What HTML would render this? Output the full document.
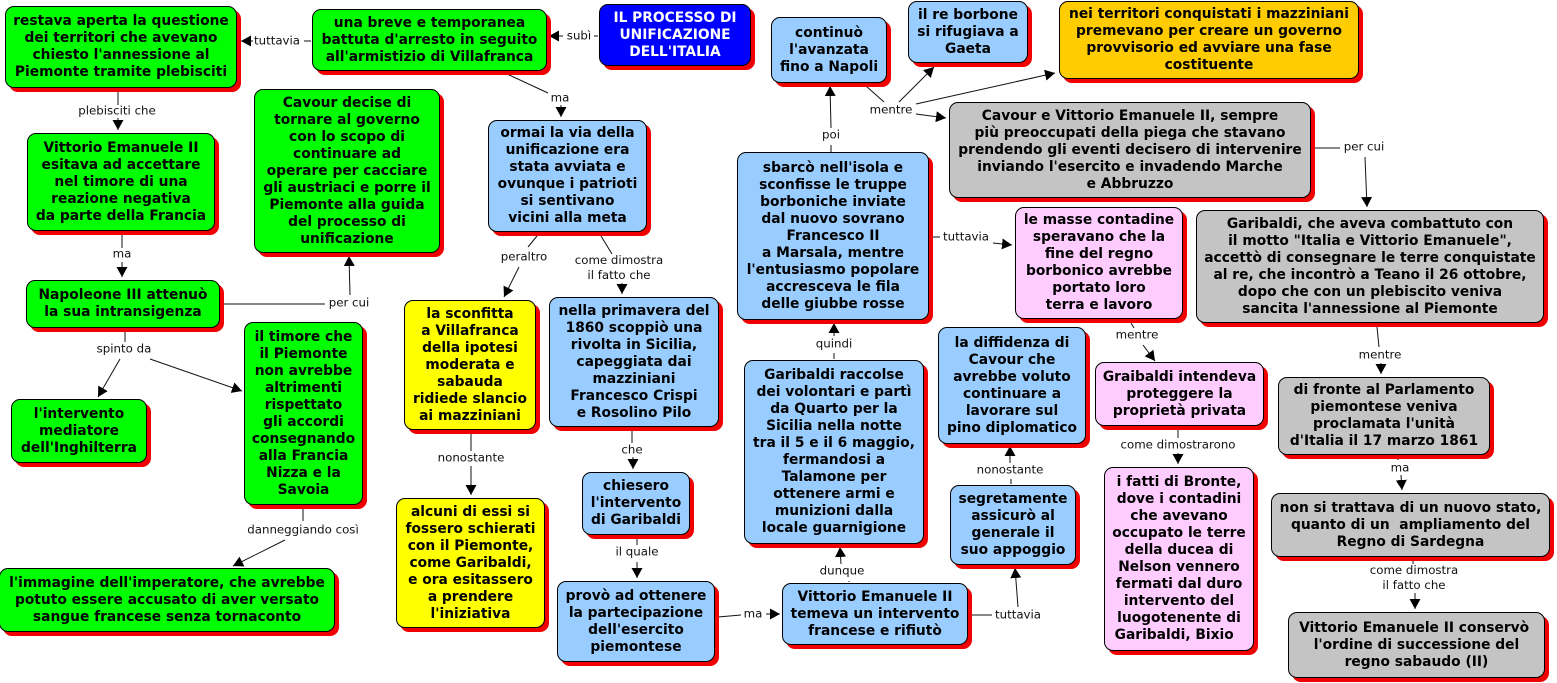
<!DOCTYPE html>
<html><head><meta charset="utf-8"><style>
html,body{margin:0;padding:0;background:#fff;width:1557px;height:683px;overflow:hidden}
.n{position:absolute;box-sizing:border-box;border:1px solid #000;border-radius:9px;box-shadow:4px 4px 0 #f00000;display:flex;align-items:center;justify-content:center;text-align:center;font:bold 13.8px/17px "DejaVu Sans","Liberation Sans",sans-serif;color:#000;white-space:pre}
.g{background:#00ff00}.b{background:#99ccff}.y{background:#ffff00}.p{background:#ffccff}.s{background:#c4c4c4}.o{background:#ffcc00}
.l{position:absolute;transform:translate(-50%,-50%);font:11.8px/15px "DejaVu Sans","Liberation Sans",sans-serif;color:#111;text-align:center;white-space:nowrap}
svg{position:absolute;left:0;top:0}
</style></head><body>
<svg width="1557" height="683" viewBox="0 0 1557 683"><defs><marker id="a" markerUnits="userSpaceOnUse" markerWidth="11" markerHeight="11" refX="10" refY="5.5" orient="auto"><path d="M0 0L10 5.5L0 11Z" fill="#000"/></marker></defs>
<g stroke="#111" stroke-width="1" fill="none">
<path d="M598 36H594"/><path d="M563 36H549" marker-end="url(#a)"/>
<path d="M311 41H304"/><path d="M253 41H241" marker-end="url(#a)"/>
<path d="M118 90V105"/><path d="M118 118V130" marker-end="url(#a)"/>
<path d="M122 233V248"/><path d="M122 262V277" marker-end="url(#a)"/>
<path d="M223 304H325"/><path d="M350 295L349 256" marker-end="url(#a)"/>
<path d="M125 330V342"/><path d="M120 359L98 397" marker-end="url(#a)"/><path d="M150 359L242 391" marker-end="url(#a)"/>
<path d="M303 507V521"/><path d="M285 540L233 566" marker-end="url(#a)"/>
<path d="M507 74L548 93"/><path d="M561 105V117" marker-end="url(#a)"/>
<path d="M537 236L528 247"/><path d="M519 267L504 297" marker-end="url(#a)"/>
<path d="M601 236L612 254"/><path d="M622 283V294" marker-end="url(#a)"/>
<path d="M471 434V451"/><path d="M471 466V495" marker-end="url(#a)"/>
<path d="M632 430V443"/><path d="M633 457V469" marker-end="url(#a)"/>
<path d="M637 538V545"/><path d="M637 562V578" marker-end="url(#a)"/>
<path d="M718 617L741 615"/><path d="M766 614H780" marker-end="url(#a)"/>
<path d="M841 564L840 547" marker-end="url(#a)"/><path d="M849 581V582"/>
<path d="M972 615H992"/><path d="M1018 607L1015 568" marker-end="url(#a)"/>
<path d="M1011 479V484"/><path d="M1010 463V446" marker-end="url(#a)"/>
<path d="M834 353V359"/><path d="M834 336V323" marker-end="url(#a)"/>
<path d="M831 145V152"/><path d="M831 128L830 86" marker-end="url(#a)"/>
<path d="M866 86L884 102"/><path d="M899 102L934 67" marker-end="url(#a)"/><path d="M916 104L1055 73" marker-end="url(#a)"/><path d="M916 114L946 118" marker-end="url(#a)"/>
<path d="M1315 148H1340"/><path d="M1365 157L1367 207" marker-end="url(#a)"/>
<path d="M932 237H940"/><path d="M993 243L1012 245" marker-end="url(#a)"/>
<path d="M1131 323L1134 328"/><path d="M1143 345L1155 361" marker-end="url(#a)"/>
<path d="M1178 430V438"/><path d="M1178 453V464" marker-end="url(#a)"/>
<path d="M1377 327L1379 347"/><path d="M1381 363V374" marker-end="url(#a)"/>
<path d="M1398 459V460"/><path d="M1401 475L1402 490" marker-end="url(#a)"/>
<path d="M1413 560V564"/><path d="M1415 593V609" marker-end="url(#a)"/>
</g></svg>
<div class="n g" style="left:5px;top:6px;width:232px;height:82px">restava aperta la questione<br>dei territori che avevano<br>chiesto l'annessione al<br>Piemonte tramite plebisciti</div>
<div class="n g" style="left:312px;top:9px;width:235px;height:62px">una breve e temporanea<br>battuta d'arresto in seguito<br>all'armistizio di Villafranca</div>
<div class="n" style="left:599px;top:4px;width:152px;height:62px;background:#0000ff;color:#fff">IL PROCESSO DI<br>UNIFICAZIONE<br>DELL'ITALIA</div>
<div class="n b" style="left:771px;top:17px;width:116px;height:66px">continuò<br>l'avanzata<br>fino a Napoli</div>
<div class="n b" style="left:908px;top:1px;width:120px;height:62px">il re borbone<br>si rifugiava a<br>Gaeta</div>
<div class="n o" style="left:1059px;top:1px;width:300px;height:78px">nei territori conquistati i mazziniani<br>premevano per creare un governo<br>provvisorio ed avviare una fase<br>costituente</div>
<div class="n s" style="left:949px;top:102px;width:362px;height:96px">Cavour e Vittorio Emanuele II, sempre<br>più preoccupati della piega che stavano<br>prendendo gli eventi decisero di intervenire<br>inviando l'esercito e invadendo Marche<br>e Abbruzzo</div>
<div class="n g" style="left:254px;top:89px;width:186px;height:164px">Cavour decise di<br>tornare al governo<br>con lo scopo di<br>continuare ad<br>operare per cacciare<br>gli austriaci e porre il<br>Piemonte alla guida<br>del processo di<br>unificazione</div>
<div class="n g" style="left:27px;top:133px;width:188px;height:98px">Vittorio Emanuele II<br>esitava ad accettare<br>nel timore di una<br>reazione negativa<br>da parte della Francia</div>
<div class="n g" style="left:26px;top:280px;width:194px;height:48px">Napoleone III attenuò<br>la sua intransigenza</div>
<div class="n g" style="left:244px;top:322px;width:119px;height:183px">il timore che<br>il Piemonte<br>non avrebbe<br>altrimenti<br>rispettato<br>gli accordi<br>consegnando<br>alla Francia<br>Nizza e la<br>Savoia</div>
<div class="n g" style="left:11px;top:399px;width:136px;height:64px">l'intervento<br>mediatore<br>dell'Inghilterra</div>
<div class="n g" style="left:-1px;top:568px;width:336px;height:64px">l'immagine dell'imperatore, che avrebbe<br>potuto essere accusato di aver versato<br>sangue francese senza tornaconto</div>
<div class="n b" style="left:488px;top:120px;width:159px;height:112px">ormai la via della<br>unificazione era<br>stata avviata e<br>ovunque i patrioti<br>si sentivano<br>vicini alla meta</div>
<div class="n y" style="left:404px;top:300px;width:132px;height:130px">la sconfitta<br>a Villafranca<br>della ipotesi<br>moderata e<br>sabauda<br>ridiede slancio<br>ai mazziniani</div>
<div class="n b" style="left:549px;top:297px;width:170px;height:130px">nella primavera del<br>1860 scoppiò una<br>rivolta in Sicilia,<br>capeggiata dai<br>mazziniani<br>Francesco Crispi<br>e Rosolino Pilo</div>
<div class="n y" style="left:396px;top:498px;width:149px;height:130px">alcuni di essi si<br>fossero schierati<br>con il Piemonte,<br>come Garibaldi,<br>e ora esitassero<br>a prendere<br>l'iniziativa</div>
<div class="n b" style="left:582px;top:472px;width:108px;height:63px">chiesero<br>l'intervento<br>di Garibaldi</div>
<div class="n b" style="left:557px;top:581px;width:158px;height:81px">provò ad ottenere<br>la partecipazione<br>dell'esercito<br>piemontese</div>
<div class="n b" style="left:782px;top:583px;width:186px;height:62px">Vittorio Emanuele II<br>temeva un intervento<br>francese e rifiutò</div>
<div class="n b" style="left:744px;top:360px;width:180px;height:184px">Garibaldi raccolse<br>dei volontari e partì<br>da Quarto per la<br>Sicilia nella notte<br>tra il 5 e il 6 maggio,<br>fermandosi a<br>Talamone per<br>ottenere armi e<br>munizioni dalla<br>locale guarnigione</div>
<div class="n b" style="left:737px;top:152px;width:192px;height:168px">sbarcò nell'isola e<br>sconfisse le truppe<br>borboniche inviate<br>dal nuovo sovrano<br>Francesco II<br>a Marsala, mentre<br>l'entusiasmo popolare<br>accresceva le fila<br>delle giubbe rosse</div>
<div class="n p" style="left:1015px;top:207px;width:168px;height:112px">le masse contadine<br>speravano che la<br>fine del regno<br>borbonico avrebbe<br>portato loro<br>terra e lavoro</div>
<div class="n b" style="left:938px;top:327px;width:148px;height:117px">la diffidenza di<br>Cavour che<br>avrebbe voluto<br>continuare a<br>lavorare sul<br>pino diplomatico</div>
<div class="n b" style="left:950px;top:485px;width:126px;height:80px">segretamente<br>assicurò al<br>generale il<br>suo appoggio</div>
<div class="n p" style="left:1095px;top:362px;width:169px;height:64px">Graibaldi intendeva<br>proteggere la<br>proprietà privata</div>
<div class="n p" style="left:1104px;top:467px;width:150px;height:184px">i fatti di Bronte,<br>dove i contadini<br>che avevano<br>occupato le terre<br>della ducea di<br>Nelson vennero<br>fermati dal duro<br>intervento del<br>luogotenente di<br>Garibaldi, Bixio&nbsp;&nbsp;</div>
<div class="n s" style="left:1196px;top:210px;width:348px;height:113px">Garibaldi, che aveva combattuto con<br>il motto "Italia e Vittorio Emanuele",<br>accettò di consegnare le terre conquistate<br>al re, che incontrò a Teano il 26 ottobre,<br>dopo che con un plebiscito veniva<br>sancita l'annessione al Piemonte</div>
<div class="n s" style="left:1278px;top:377px;width:212px;height:78px">di fronte al Parlamento<br>piemontese veniva<br>proclamata l'unità<br>d'Italia il 17 marzo 1861</div>
<div class="n s" style="left:1271px;top:493px;width:279px;height:64px">non si trattava di un nuovo stato,<br>quanto di un&nbsp; ampliamento del<br>Regno di Sardegna</div>
<div class="n s" style="left:1288px;top:612px;width:257px;height:66px">Vittorio Emanuele II conservò&nbsp;<br>l'ordine di successione del<br>regno sabaudo (II)</div>
<div class="l" style="left:579px;top:36px">subì</div>
<div class="l" style="left:277px;top:41px">tuttavia</div>
<div class="l" style="left:117px;top:111px">plebisciti che</div>
<div class="l" style="left:122px;top:254px">ma</div>
<div class="l" style="left:349px;top:303px">per cui</div>
<div class="l" style="left:124px;top:349px">spinto da</div>
<div class="l" style="left:303px;top:530px">danneggiando così</div>
<div class="l" style="left:560px;top:98px">ma</div>
<div class="l" style="left:524px;top:257px">peraltro</div>
<div class="l" style="left:619px;top:268px">come dimostra<br>il fatto che</div>
<div class="l" style="left:471px;top:458px">nonostante</div>
<div class="l" style="left:632px;top:450px">che</div>
<div class="l" style="left:637px;top:552px">il quale</div>
<div class="l" style="left:753px;top:614px">ma</div>
<div class="l" style="left:842px;top:571px">dunque</div>
<div class="l" style="left:1018px;top:615px">tuttavia</div>
<div class="l" style="left:1010px;top:470px">nonostante</div>
<div class="l" style="left:834px;top:344px">quindi</div>
<div class="l" style="left:831px;top:135px">poi</div>
<div class="l" style="left:891px;top:110px">mentre</div>
<div class="l" style="left:1364px;top:147px">per cui</div>
<div class="l" style="left:966px;top:237px">tuttavia</div>
<div class="l" style="left:1137px;top:335px">mentre</div>
<div class="l" style="left:1178px;top:445px">come dimostrarono</div>
<div class="l" style="left:1380px;top:355px">mentre</div>
<div class="l" style="left:1400px;top:468px">ma</div>
<div class="l" style="left:1414px;top:578px">come dimostra<br>il fatto che</div>
</body></html>
